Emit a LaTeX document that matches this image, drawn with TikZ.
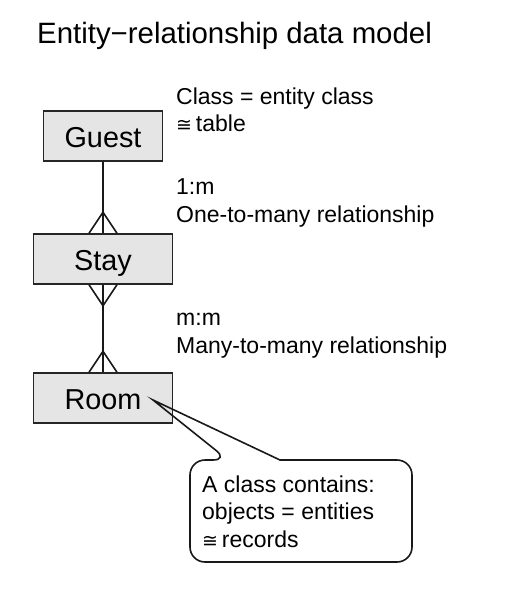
\documentclass[tikz,border=0pt]{standalone}
\usepackage{fontspec}
\setmainfont{Liberation Sans}
\newfontfamily\symfont{DejaVu Sans}
\newcommand{\approxeq}{{\symfont\fontsize{19}{19}\selectfont ≅}}
\begin{document}
\begin{tikzpicture}[x=1pt,y=-1pt,
        entity/.style={draw=black!85,line width=1.6pt,fill=black!10,
                minimum height=50pt,inner sep=0pt,text height=23pt,text depth=0pt,
                font=\fontsize{28.8}{30}\selectfont},
        note/.style={anchor=base west,align=left,inner sep=0pt,
                font=\fontsize{23}{27.5}\selectfont},
        line/.style={black!90,line width=1.6pt}]
        \useasboundingbox (0,0) rectangle (510,608);
        \node[anchor=base west,inner sep=0pt,font=\fontsize{29.4}{30}\selectfont] (title) at (37,43) {Entity−relationship data model};

        \node[entity,minimum width=119pt] (guest) at (103,136) {Guest};
        \node[entity,minimum width=139pt] (stay) at (103,259) {Stay};
        \node[entity,minimum width=139pt] (room) at (103,398) {Room};

        % base anchor sits on the last line
        \node[note] (classnote) at (176,131.5) {Class = entity class\\\approxeq\,table};
        \node[note] (onemany) at (176,222) {1:m\\One-to-many relationship};
        \node[note] (manymany) at (176,353) {m:m\\Many-to-many relationship};

        % relationships with crow's feet
        \draw[line] (guest) -- (stay);
        \draw[line] ([xshift=-14pt]stay.north) -- ([yshift=21pt]stay.north) -- ([xshift=14pt]stay.north);
        \draw[line] (stay) -- (room);
        \draw[line] ([xshift=-14pt]stay.south) -- ([yshift=-21pt]stay.south) -- ([xshift=14pt]stay.south);
        \draw[line] ([xshift=-14pt]room.north) -- ([yshift=21pt]room.north) -- ([xshift=14pt]room.north);

        % callout
        \coordinate (tip) at (153,400);
        \draw[line] (330,460) [rounded corners=15pt] -- (412,460) -- (412,562) -- (190,562) -- (190,460)
                -- (228,460) [sharp corners] -- (tip) -- (280,460) -- cycle;
        \node[note] (contents) at (202,547) {A class contains:\\objects = entities\\\approxeq\,records};
\end{tikzpicture}
\end{document}
